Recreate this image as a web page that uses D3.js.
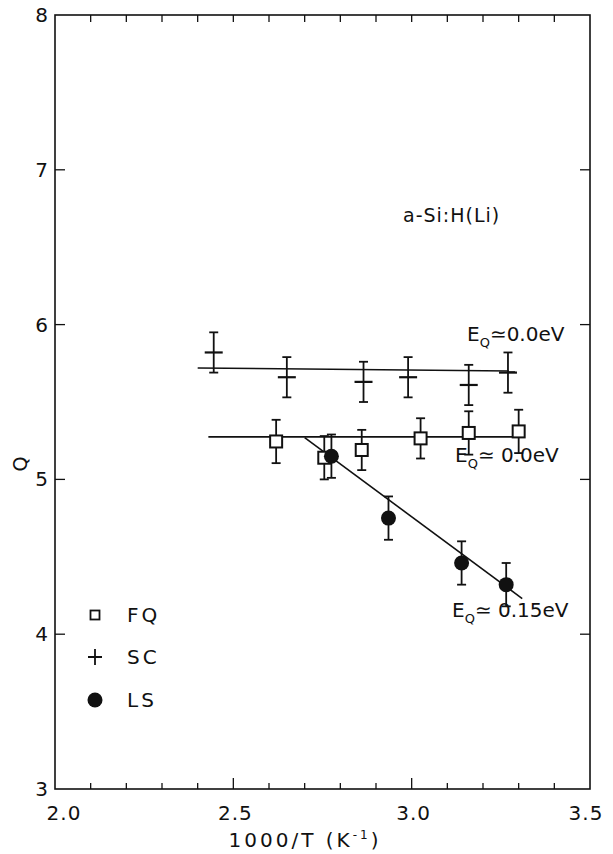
<!DOCTYPE html>
<html>
<head>
<meta charset="utf-8">
<script src="https://cdn.jsdelivr.net/npm/d3@7"></script>
<style>
  body { margin: 0; background: #fff; }
  text { font-family: "DejaVu Sans", sans-serif; fill: #111; }
</style>
</head>
<body>
<div id="chart"></div>
<script>
// Data: Q versus 1000/T for a-Si:H(Li)
var fqX = [2.62, 2.755, 2.86, 3.025, 3.16, 3.30];
var fqY = [5.245, 5.14, 5.19, 5.265, 5.30, 5.31];
var fqErr = [0.14, 0.14, 0.13, 0.13, 0.14, 0.14];

var scX = [2.445, 2.65, 2.865, 2.99, 3.16, 3.27];
var scY = [5.82, 5.66, 5.63, 5.66, 5.61, 5.69];
var scErr = [0.13, 0.13, 0.13, 0.13, 0.13, 0.13];

var lsX = [2.775, 2.935, 3.14, 3.265];
var lsY = [5.15, 4.75, 4.46, 4.32];
var lsErr = [0.14, 0.14, 0.14, 0.14];

// fitted lines (end points)
var fitSC = [[2.40, 5.72], [3.29, 5.70]];
var fitFQ = [[2.43, 5.275], [3.30, 5.275]];
var fitLS = [[2.70, 5.27], [3.31, 4.23]];

var xTicks = [2.0, 2.5, 3.0, 3.5];
var yTicks = [3, 4, 5, 6, 7, 8];
var legendLabels = ['FQ', 'SC', 'LS'];

drawChart();

function drawChart() {

  var width = 613, height = 854;
  var pLeft = 55, pRight = 590, pTop = 15, pBottom = 789;

  var x = d3.scaleLinear().domain([2.0, 3.5]).range([pLeft, pRight]);
  var y = d3.scaleLinear().domain([3, 8]).range([pBottom, pTop]);

  var svg = d3.select('#chart').append('svg')
    .attr('width', width)
    .attr('height', height);

  // frame
  svg.append('rect')
    .attr('x', pLeft).attr('y', pTop)
    .attr('width', pRight - pLeft).attr('height', pBottom - pTop)
    .style('fill', 'none')
    .style('stroke', '#111')
    .style('stroke-width', 1.6);

  // x ticks every 0.1, inward, longer at 2.5 and 3.0
  var xMinor = d3.range(21, 35).map(function(d) { return d / 10; });
  xMinor.forEach(function(v) {
    var major = Math.abs(v - 2.5) < 1e-6 || Math.abs(v - 3.0) < 1e-6;
    svg.append('line')
      .attr('x1', x(v)).attr('x2', x(v))
      .attr('y1', pBottom).attr('y2', pBottom - (major ? 11 : 6))
      .style('stroke', '#111').style('stroke-width', 1.3);
    svg.append('line')
      .attr('x1', x(v)).attr('x2', x(v))
      .attr('y1', pTop).attr('y2', pTop + 7)
      .style('stroke', '#111').style('stroke-width', 1.3);
  });

  // y ticks at integers, inward on both sides
  yTicks.slice(1, -1).forEach(function(v) {
    svg.append('line')
      .attr('x1', pLeft).attr('x2', pLeft + 10)
      .attr('y1', y(v)).attr('y2', y(v))
      .style('stroke', '#111').style('stroke-width', 1.3);
    svg.append('line')
      .attr('x1', pRight).attr('x2', pRight - 10)
      .attr('y1', y(v)).attr('y2', y(v))
      .style('stroke', '#111').style('stroke-width', 1.3);
  });

  // tick labels (end labels pulled inside like the original)
  svg.selectAll('.xlab')
    .data(xTicks)
    .enter().append('text')
    .attr('x', function(d, i) {
      var shift = i === 0 ? 9 : (i === xTicks.length - 1 ? -4 : 2);
      return x(d) + shift;
    })
    .attr('y', pBottom + 31)
    .style('font-size', '20px')
    .style('text-anchor', 'middle')
    .style('letter-spacing', '1px')
    .text(function(d) { return d3.format('.1f')(d); });

  svg.selectAll('.ylab')
    .data(yTicks)
    .enter().append('text')
    .attr('x', pLeft - 7)
    .attr('y', function(d) { return y(d) + 7; })
    .style('font-size', '20px')
    .style('text-anchor', 'end')
    .text(function(d) { return d; });

  // axis titles
  svg.append('text')
    .attr('x', 305)
    .attr('y', pBottom + 58)
    .style('font-size', '20px')
    .style('text-anchor', 'middle')
    .style('letter-spacing', '3px')
    .html('1000/T (K<tspan dy="-8" style="font-size:12px">-1</tspan><tspan dy="8">)</tspan>');

  svg.append('text')
    .attr('transform', 'translate(' + 27 + ',' + y(5.1) + ') rotate(-90)')
    .style('font-size', '19px')
    .style('text-anchor', 'middle')
    .text('Q');

  // fitted lines
  [fitSC, fitFQ, fitLS].forEach(function(f) {
    svg.append('line')
      .attr('x1', x(f[0][0])).attr('y1', y(f[0][1]))
      .attr('x2', x(f[1][0])).attr('y2', y(f[1][1]))
      .style('stroke', '#111').style('stroke-width', 1.6);
  });

  // error bars
  function errorBars(xs, ys, es) {
    xs.forEach(function(v, i) {
      var g = svg.append('g').style('stroke', '#111').style('stroke-width', 1.8);
      g.append('line')
        .attr('x1', x(v)).attr('x2', x(v))
        .attr('y1', y(ys[i] - es[i])).attr('y2', y(ys[i] + es[i]));
      g.append('line')
        .attr('x1', x(v) - 4.5).attr('x2', x(v) + 4.5)
        .attr('y1', y(ys[i] - es[i])).attr('y2', y(ys[i] - es[i]));
      g.append('line')
        .attr('x1', x(v) - 4.5).attr('x2', x(v) + 4.5)
        .attr('y1', y(ys[i] + es[i])).attr('y2', y(ys[i] + es[i]));
    });
  }
  errorBars(scX, scY, scErr);
  errorBars(fqX, fqY, fqErr);
  errorBars(lsX, lsY, lsErr);

  // SC plus markers
  scX.forEach(function(v, i) {
    svg.append('line')
      .attr('x1', x(v) - 9).attr('x2', x(v) + 9)
      .attr('y1', y(scY[i])).attr('y2', y(scY[i]))
      .style('stroke', '#111').style('stroke-width', 2.2);
  });

  // FQ open squares
  svg.selectAll('.fq')
    .data(fqX)
    .enter().append('rect')
    .attr('x', function(d) { return x(d) - 6; })
    .attr('y', function(d, i) { return y(fqY[i]) - 6; })
    .attr('width', 12).attr('height', 12)
    .style('fill', '#fff')
    .style('stroke', '#111')
    .style('stroke-width', 2);

  // LS filled circles
  svg.selectAll('.ls')
    .data(lsX)
    .enter().append('circle')
    .attr('cx', function(d) { return x(d); })
    .attr('cy', function(d, i) { return y(lsY[i]); })
    .attr('r', 7.5)
    .style('fill', '#111');

  // annotations
  function eqLabel(px, py, val) {
    var t = svg.append('text')
      .attr('x', px).attr('y', py)
      .style('font-size', '20px');
    t.append('tspan').text('E');
    t.append('tspan').attr('dy', 6).style('font-size', '13px').text('Q');
    t.append('tspan').attr('dy', -6).text('\u2243' + val + 'eV');
  }
  eqLabel(467, 341, '0.0');
  eqLabel(455, 462, ' 0.0');
  eqLabel(452, 617, ' 0.15');

  svg.append('text')
    .attr('x', 403).attr('y', 222)
    .style('font-size', '19px')
    .style('letter-spacing', '1px')
    .text('a-Si:H(Li)');

  // legend
  var legendY = [615, 657, 700];
  var legend = svg.selectAll('.legend')
    .data(legendLabels)
    .enter().append('g')
    .attr('transform', function(d, i) { return 'translate(95,' + legendY[i] + ')'; });

  legend.append('text')
    .attr('x', 32).attr('y', 7)
    .style('font-size', '20px')
    .style('letter-spacing', '3px')
    .text(function(d) { return d; });

  legend.filter(function(d) { return d === 'FQ'; }).append('rect')
    .attr('x', -4.5).attr('y', -4.5).attr('width', 9).attr('height', 9)
    .style('fill', 'none').style('stroke', '#111').style('stroke-width', 1.8);
  legend.filter(function(d) { return d === 'SC'; }).append('path')
    .attr('d', 'M-7,0H7M0,-8V8')
    .style('stroke', '#111').style('stroke-width', 1.8);
  legend.filter(function(d) { return d === 'LS'; }).append('circle')
    .attr('r', 7.5).style('fill', '#111');
}
</script>
</body>
</html>
